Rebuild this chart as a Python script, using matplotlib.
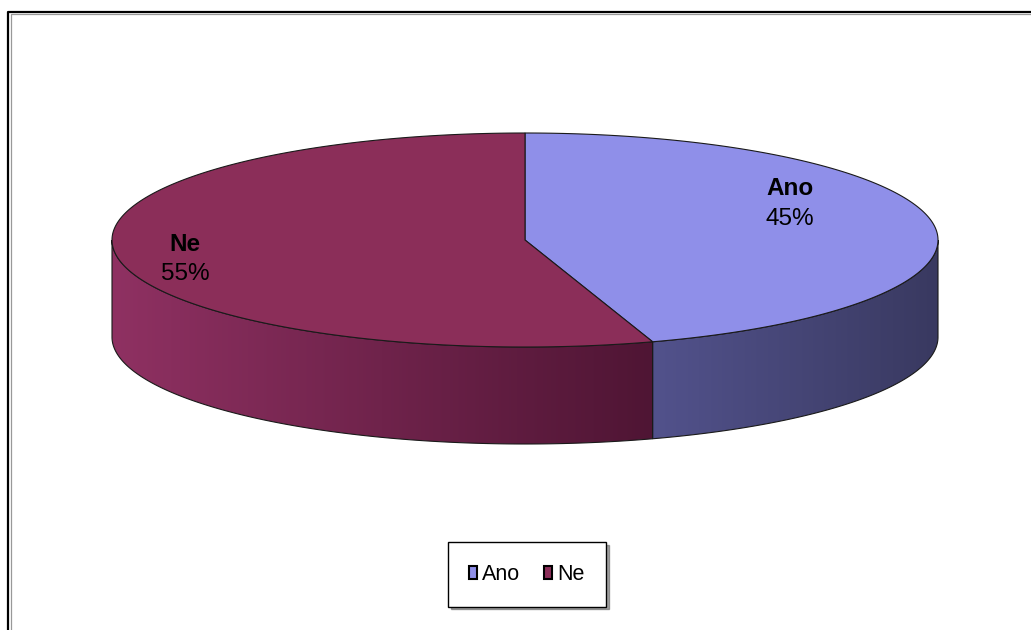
import numpy as np
import matplotlib
matplotlib.use('Agg')
import matplotlib.pyplot as plt
from matplotlib.patches import Polygon, Patch
from matplotlib.colors import LinearSegmentedColormap

categories = ['Ano', 'Ne']
values = [45, 55]
pct_labels = ['45%', '55%']
top_colors = ['#8f8fe9', '#8b2e59']
side_left = ['#52528c', '#8f3162']
side_right = ['#393960', '#4f1534']

plt.rcParams['font.family'] = ['Liberation Sans', 'DejaVu Sans']

W, H = 1031, 630
fig = plt.figure(figsize=(W / 100, H / 100), dpi=100)
fig.patch.set_facecolor('white')
ax = fig.add_axes([0, 0, 1, 1])
ax.set_xlim(0, W)
ax.set_ylim(H, 0)
ax.axis('off')

# outer frame (left and top visible)
ax.plot([8, 8, W], [H, 12, 12], color='black', lw=1.6, solid_capstyle='butt', zorder=1)
ax.plot([10.8, 10.8, W], [H, 14.2, 14.2], color='#999999', lw=0.9, solid_capstyle='butt', zorder=1)

cx, cy, a, b, d = 525, 240, 413, 107, 97


def ell(t):
    return cx + a * np.cos(t), cy - b * np.sin(t)


total = float(sum(values))
start = np.pi / 2
slices = []
for v in values:
    end = start - 2 * np.pi * v / total
    slices.append((start, end))
    start = end

edge_kw = dict(edgecolor='#1a1a1a', linewidth=0.8)

# sides (front visible part)
fronts = [(-np.pi, 0.0), (-3 * np.pi, -2 * np.pi), (np.pi, 2 * np.pi)]
for i, (s, e) in enumerate(slices):
    lo_s, hi_s = min(s, e), max(s, e)
    for flo, fhi in fronts:
        lo, hi = max(lo_s, flo), min(hi_s, fhi)
        if hi - lo <= 1e-6:
            continue
        ts = np.linspace(lo, hi, 300)
        xs, ys = ell(ts)
        px = np.concatenate([xs, xs[::-1]])
        py = np.concatenate([ys, ys[::-1] + d])
        poly = Polygon(np.column_stack([px, py]), closed=True, facecolor='none',
                       zorder=3, **edge_kw)
        ax.add_patch(poly)
        cmap = LinearSegmentedColormap.from_list('g%d' % i, [side_left[i], side_right[i]])
        grad = np.linspace(0, 1, 256).reshape(1, -1)
        im = ax.imshow(grad, cmap=cmap, aspect='auto',
                       extent=[xs.min(), xs.max(), py.max(), py.min()], zorder=2)
        im.set_clip_path(poly)

ax.set_xlim(0, W)
ax.set_ylim(H, 0)

# top faces
for i, (s, e) in enumerate(slices):
    ts = np.linspace(s, e, 400)
    xs, ys = ell(ts)
    px = np.concatenate([[cx], xs])
    py = np.concatenate([[cy], ys])
    ax.add_patch(Polygon(np.column_stack([px, py]), closed=True,
                         facecolor=top_colors[i], zorder=4, **edge_kw))

# labels (x centre, baseline of category line, baseline of percent line)
label_pos = [(790, 195, 225), (185, 251, 280)]
for i, cat in enumerate(categories):
    x, y1, y2 = label_pos[i]
    ax.text(x, y1, cat, ha='center', va='baseline', fontsize=17.5,
            fontweight='bold', zorder=5)
    ax.text(x, y2, pct_labels[i], ha='center', va='baseline', fontsize=17.5,
            zorder=5)

# legend
handles = [Patch(facecolor=top_colors[i], edgecolor='black', linewidth=1.5)
           for i in range(len(categories))]
leg = ax.legend(handles, categories, loc='center', ncol=2,
                bbox_to_anchor=(527 / W, 1 - 574.5 / H), bbox_transform=ax.transAxes,
                fontsize=15.5, frameon=True, fancybox=False, shadow=True,
                edgecolor='black', handlelength=0.37, handleheight=0.56,
                handletextpad=0.23, columnspacing=1.1, borderpad=1.0)
leg.get_frame().set_linewidth(1.0)

fig.savefig('out.png', dpi=100, facecolor='white')
